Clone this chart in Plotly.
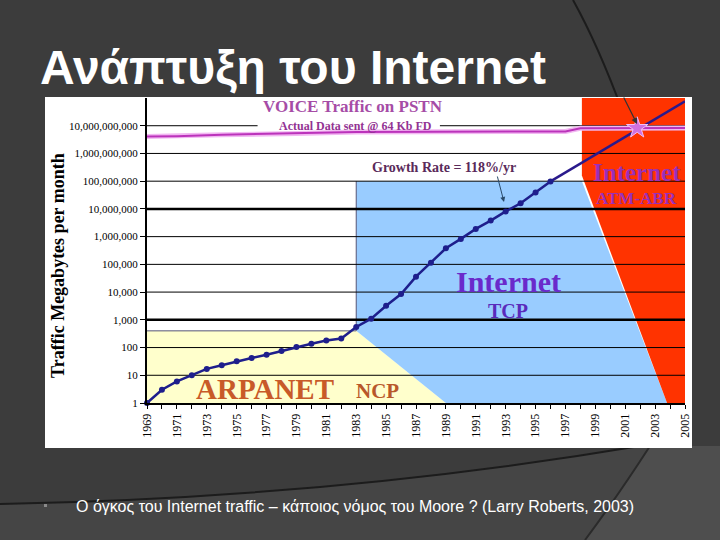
import plotly.graph_objects as go

# ---------------- data ----------------
years = list(range(1969, 1997))
traffic = [1, 3, 6, 10, 17, 23, 32, 42, 55, 75, 105, 138, 180, 210, 550, 1100,
           3200, 8500, 36000, 115000, 380000, 830000, 1.9e6, 3.8e6, 8.1e6,
           1.6e7, 3.9e7, 9.8e7]
proj_years = [1996, 2005]
proj_traffic = [9.8e7, 7.6e10]
voice_years = [1969, 1971, 1974, 1979, 1983, 1997, 1998, 2005]
voice_traffic = [4.1e9, 4.2e9, 4.7e9, 5.2e9, 6.0e9, 6.2e9, 8.1e9, 8.3e9]
star_year = [2001.8]
star_traffic = [8.3e9]

# era regions (year, traffic)
ncp_x = [1969, 1969, 1983, 1989]
ncp_y = [1, 400, 400, 1]
tcp_x = [1983, 1983, 1998.1, 2003.8, 1989]
tcp_y = [400, 1e8, 1e8, 1, 1]
atm_x = [1998.1, 2005, 2005, 2003.8, 1998.1]
atm_y = [1e11, 1e11, 1, 1, 1.6e8]

tick_years = list(range(1969, 2006))
x_labels = [str(y) if (y - 1969) % 2 == 0 else "" for y in tick_years]
y_ticks = [10 ** k for k in range(0, 11)]
y_labels = [f"{v:,}" for v in y_ticks]
thick_grid = [1e3, 1e7]

# ---------------- layout helpers ----------------
L, R, T, B = 147, 35, 98, 137
W, H = 720, 540
PW, PH = W - L - R, H - T - B


def px(x, y):
    return (x - L) / PW, (H - B - y) / PH


SERIF = "Liberation Serif"
SANS = "Liberation Sans"

fig = go.Figure()

# era fills
fig.add_trace(go.Scatter(x=ncp_x, y=ncp_y, fill="toself", fillcolor="#FFFFCC",
                         line=dict(width=0), mode="lines", hoverinfo="skip"))
fig.add_trace(go.Scatter(x=tcp_x, y=tcp_y, fill="toself", fillcolor="#99CCFF",
                         line=dict(width=0), mode="lines", hoverinfo="skip"))
fig.add_trace(go.Scatter(x=atm_x, y=atm_y, fill="toself", fillcolor="#FF3300",
                         line=dict(width=0), mode="lines", hoverinfo="skip"))
# borders of yellow top / blue left
fig.add_trace(go.Scatter(x=[ncp_x[1], ncp_x[2], None, tcp_x[0], tcp_x[1]],
                         y=[ncp_y[1], ncp_y[2], None, tcp_y[0], tcp_y[1]],
                         mode="lines", line=dict(color="#555577", width=1),
                         hoverinfo="skip"))

# gridlines
gx, gy = [], []
for v in y_ticks[1:]:
    if v == 1e10:
        gx += [1969, 1976.4, None, 1988.6, 2005, None]
        gy += [v, v, None, v, v, None]
    else:
        gx += [1969, 2005, None]
        gy += [v, v, None]
fig.add_trace(go.Scatter(x=gx, y=gy, mode="lines",
                         line=dict(color="black", width=1), hoverinfo="skip"))
tx, ty = [], []
for v in thick_grid:
    tx += [1969, 2005, None]
    ty += [v, v, None]
fig.add_trace(go.Scatter(x=tx, y=ty, mode="lines",
                         line=dict(color="black", width=2.5), hoverinfo="skip"))

# voice traffic line (glow + core)
fig.add_trace(go.Scatter(x=voice_years, y=voice_traffic, mode="lines",
                         line=dict(color="#F2B8F2", width=5), hoverinfo="skip"))
fig.add_trace(go.Scatter(x=voice_years, y=voice_traffic, mode="lines",
                         line=dict(color="#BB33BB", width=2), hoverinfo="skip"))

# projection and measured traffic
fig.add_trace(go.Scatter(x=proj_years, y=proj_traffic, mode="lines",
                         line=dict(color="#2A1A8C", width=2.5), hoverinfo="skip"))
fig.add_trace(go.Scatter(x=years, y=traffic, mode="lines+markers",
                         line=dict(color="#1E1E8C", width=2.5),
                         marker=dict(color="#1E1E8C", size=6),
                         cliponaxis=False))
fig.add_trace(go.Scatter(x=star_year, y=star_traffic, mode="markers",
                         marker=dict(symbol="star", size=16, color="#D070E0",
                                     line=dict(color="#F4C0F4", width=1)),
                         cliponaxis=False))

# ---------------- shapes ----------------
def path_from(points):
    (x0, y0), (cx, cy), (x1, y1) = [px(*p) for p in points]
    return f"M {x0},{y0} Q {cx},{cy} {x1},{y1}"

bx0, by1 = px(45, 97)
bx1, by0 = px(692, 448)
shapes = [
    # lighter bottom band
    dict(type="path", xref="paper", yref="paper", layer="below",
         path=("M {},{} Q {},{} {},{} L {},{} L {},{} L {},{} Z".format(
             *px(0, 504), *px(330, 498), *px(640, 446), *px(720, 446),
             *px(720, 540), *px(0, 540))),
         fillcolor="#454545", line=dict(width=0)),
    dict(type="path", xref="paper", yref="paper", layer="below",
         path=("M {},{} Q {},{} {},{} L {},{} L {},{} Z".format(
             *px(650, 446), *px(615, 500), *px(585, 540), *px(720, 540), *px(720, 446))),
         fillcolor="#4E4E4E", line=dict(width=0)),
    dict(type="path", xref="paper", yref="paper", layer="below",
         path=path_from([(0, 504), (330, 498), (640, 446)]),
         line=dict(color="#1C1C1C", width=2)),
    dict(type="path", xref="paper", yref="paper", layer="below",
         path=path_from([(650, 446), (615, 500), (585, 540)]),
         line=dict(color="#2A2A2A", width=2)),
    dict(type="path", xref="paper", yref="paper", layer="below",
         path=path_from([(573, 0), (598, 45), (622, 110)]),
         line=dict(color="#1C1C1C", width=2)),
    # white chart box
    dict(type="rect", xref="paper", yref="paper", layer="below",
         x0=bx0, x1=bx1, y0=by0, y1=by1, fillcolor="white", line=dict(width=0)),
    # bullet
    dict(type="rect", xref="paper", yref="paper", layer="above",
         x0=px(44, 504)[0], x1=px(47, 504)[0], y0=px(0, 507)[1], y1=px(0, 504)[1],
         fillcolor="#8A8A8A", line=dict(width=0)),
]

# ---------------- annotations ----------------
def ann(text, x, y, size, color, font=SERIF, bold=True, xanchor="center",
        yanchor="middle", angle=0, **kw):
    ax_, ay_ = px(x, y)
    t = f"<b>{text}</b>" if bold else text
    return dict(text=t, x=ax_, y=ay_, xref="paper", yref="paper",
                xanchor=xanchor, yanchor=yanchor, showarrow=False,
                textangle=angle,
                font=dict(family=font, size=size, color=color), **kw)

annotations = [
    ann("Ανάπτυξη του Internet", 38, 68, 48, "white", font=SANS, bold=True,
        xanchor="left"),
    ann("Ο όγκος του Internet traffic – κάποιος νόμος του Moore ? (Larry Roberts, 2003)",
        74, 506, 16, "white", font=SANS, bold=False, xanchor="left"),
    ann("Traffic Megabytes per month", 58, 266, 18, "black", angle=-90),
    ann("VOICE Traffic on PSTN", 353, 106, 17, "#A64CA6"),
    ann("Actual Data sent @ 64 Kb FD", 355, 126, 12, "#933393"),
    ann("Growth Rate = 118%/yr", 444, 167, 14, "#5A2A5A"),
    ann("Internet", 509, 281, 30, "#6A2ACB"),
    ann("TCP", 508, 311, 20, "#5A2ABB"),
    ann("ARPANET", 265, 389, 29, "#C85A28"),
    ann("NCP", 377, 391, 21, "#B8582A"),
    ann("Internet", 637, 172, 25, "#9A2FB8"),
    ann("ATM-ABR", 636, 198, 17, "#9A2FB8"),
]
gx_, gy_ = px(504, 202)
annotations.append(dict(text="", x=gx_, y=gy_, xref="paper", yref="paper",
                        showarrow=True, ax=-7, ay=-27, arrowhead=2, arrowsize=1,
                        arrowwidth=1, arrowcolor="#2A4A6A"))
sx_, sy_ = px(637, 124)
annotations.append(dict(text="", x=sx_, y=sy_, xref="paper", yref="paper",
                        showarrow=True, ax=-14, ay=-28, arrowhead=2, arrowsize=1,
                        arrowwidth=1.2, arrowcolor="#333333"))

fig.update_layout(
    width=W, height=H,
    margin=dict(l=L, r=R, t=T, b=B),
    paper_bgcolor="#3C3C3C", plot_bgcolor="white",
    showlegend=False,
    shapes=shapes, annotations=annotations,
    xaxis=dict(range=[1969, 2005], tickmode="array", tickvals=tick_years,
               ticktext=x_labels, tickangle=-90,
               tickfont=dict(family=SERIF, size=12, color="black"),
               ticks="outside", ticklen=4, tickcolor="black", tickwidth=1,
               showline=True, linecolor="black", linewidth=2,
               showgrid=False, zeroline=False),
    yaxis=dict(type="log", range=[0, 11], tickmode="array", tickvals=y_ticks,
               ticktext=y_labels,
               tickfont=dict(family=SERIF, size=11, color="black"),
               ticks="outside", ticklen=5, tickcolor="black",
               showline=True, linecolor="black", linewidth=2,
               showgrid=False, zeroline=False),
)

fig.write_html("out.html", config={"displayModeBar": False},
               post_script="document.body.style.margin='0';document.body.style.background='#3C3C3C';")
